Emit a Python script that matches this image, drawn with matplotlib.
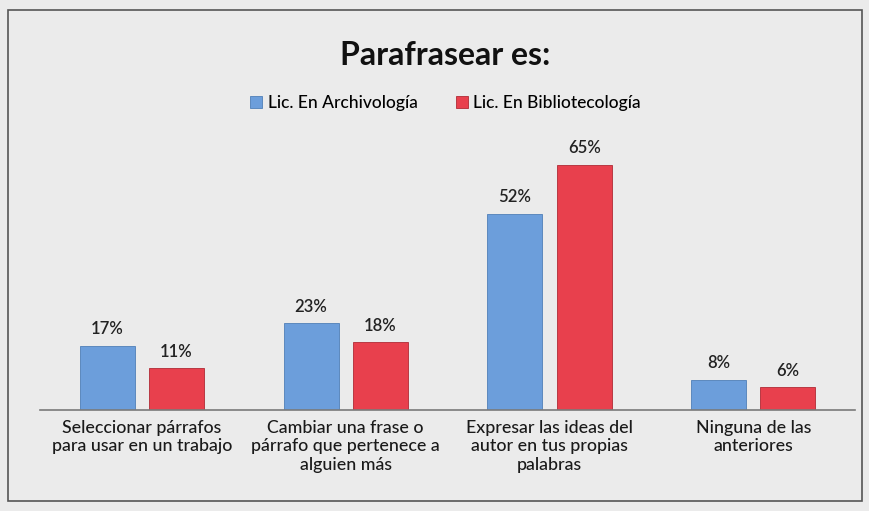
import matplotlib
matplotlib.use("Agg")
import matplotlib.pyplot as plt
import numpy as np
from matplotlib.patches import Rectangle

categories = ["Seleccionar párrafos\npara usar en un trabajo",
              "Cambiar una frase o\npárrafo que pertenece a\nalguien más",
              "Expresar las ideas del\nautor en tus propias\npalabras",
              "Ninguna de las\nanteriores"]
archivologia = [17, 23, 52, 8]
biblioteconomia = [11, 18, 65, 6]
series_names = ["Lic. En Archivología", "Lic. En Bibliotecología"]
title = "Parafrasear es:"

plt.rcParams['font.family'] = ['Lato', 'DejaVu Sans']
fig = plt.figure(figsize=(8.7, 5.11), dpi=100)
fig.patch.set_facecolor('#ebebeb')
fig.patches.append(Rectangle((0.009, 0.02), 0.982, 0.96, transform=fig.transFigure,
                             fill=False, edgecolor='#555555', linewidth=1.2))

ax = fig.add_axes([0.046, 0.198, 0.937, 0.517])
ax.set_facecolor('none')
x = np.arange(len(categories))
w = 0.27
off = 0.17
blue = '#6c9edb'
red = '#e8404d'
b1 = ax.bar(x - off, archivologia, w, color=blue, edgecolor='#4f7fb8', linewidth=0.6, label=series_names[0])
b2 = ax.bar(x + off, biblioteconomia, w, color=red, edgecolor='#b02a35', linewidth=0.6, label=series_names[1])
for bars, vals in ((b1, archivologia), (b2, biblioteconomia)):
    for r, v in zip(bars, vals):
        ax.annotate(f"{v}%", (r.get_x() + r.get_width() / 2, v), xytext=(0, 6),
                    textcoords='offset points', ha='center', va='bottom',
                    fontsize=12, fontweight='semibold', color='#222222')
ax.set_xlim(-0.5, len(categories) - 0.5)
ax.set_ylim(0, 70)
ax.set_yticks([])
ax.set_xticks(x)
ax.set_xticklabels(categories, fontsize=12.8, fontweight='medium', color='#1a1a1a', linespacing=1.2)
ax.tick_params(axis='x', length=0, pad=7)
for s in ['top', 'right', 'left']:
    ax.spines[s].set_visible(False)
ax.spines['bottom'].set_color('#7a7a7a')
ax.spines['bottom'].set_linewidth(1.2)

fig.text(0.512, 0.892, title, ha='center', va='center', fontsize=23, fontweight='bold', color='#111111')
leg = fig.legend(handles=[b1, b2], labels=series_names, loc='center', bbox_to_anchor=(0.512, 0.798),
                 ncol=2, frameon=False, handlelength=0.7, handleheight=0.7,
                 handletextpad=0.3, columnspacing=2.2,
                 prop={'size': 12.5, 'weight': 'medium'})
fig.savefig("out.png", dpi=100, facecolor=fig.get_facecolor())
